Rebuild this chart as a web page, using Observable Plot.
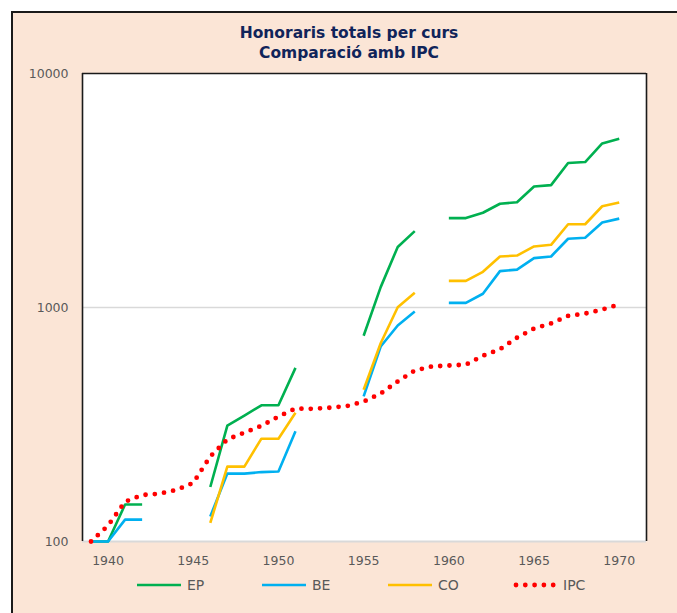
<!DOCTYPE html>
<html>
<head>
<meta charset="utf-8">
<script src="https://cdn.jsdelivr.net/npm/d3@7"></script>
<script src="https://cdn.jsdelivr.net/npm/@observablehq/plot@0.6"></script>
<style>
  html, body { margin: 0; padding: 0; background: #ffffff; }
  body { width: 677px; height: 613px; position: relative; overflow: hidden; font-family: "DejaVu Sans", Verdana, sans-serif; }
  #panel { position: absolute; left: 11px; top: 11px; width: 700px; height: 640px; background: #fbe5d6; border-left: 2px solid #1a1a1a; border-top: 2px solid #1a1a1a; box-sizing: border-box; }
  #title { position: absolute; left: 0; width: 698px; top: 23px; text-align: center; font-weight: bold; font-size: 15.5px; line-height: 20px; color: #10245a; }
  #chart { position: absolute; left: 0; top: 0; }
  #legend { position: absolute; left: 0; top: 575px; width: 677px; height: 20px; font-size: 14px; color: #595959; }
  .item { position: absolute; top: 0; display: flex; align-items: center; height: 20px; }
  .item svg { margin-right: 6px; }
</style>
</head>
<body>
<div id="panel"></div>
<div id="title">Honoraris totals per curs<br>Comparació amb IPC</div>
<div id="chart"></div>
<div id="legend"></div>
<script>
const years = d3.range(1939, 1971);
const EP = [100,100,144,144,null,null,null,171,313,345,382,382,552,null,null,null,757,1222,1815,2120,null,2410,2410,2541,2776,2818,3290,3335,4144,4185,5027,5265];
const BE = [100,100,124,124,null,null,null,128,195,195,198,199,296,null,null,null,417,681,838,961,null,1047,1047,1145,1430,1452,1625,1652,1967,1987,2307,2398];
const CO = [null,null,null,null,null,null,null,120,209,209,275,275,355,null,null,null,445,703,1002,1155,null,1300,1300,1421,1652,1667,1823,1853,2269,2269,2708,2812];
const IPC = [100,117,148,158,160,166,178,231,273,292,312,342,370,369,373,379,396,429,483,538,560,565,570,622,663,743,813,855,921,942,980,1030];
const seriesNames = ["EP","BE","CO","IPC"];
const seriesColors = {EP:"#00b050", BE:"#00b0f0", CO:"#ffc000", IPC:"#ff0000"};
const xTicks = [1940,1945,1950,1955,1960,1965,1970];
const yTicks = [100,1000,10000];

const seriesValues = {EP, BE, CO, IPC};
const rows = [];
for (const s of seriesNames) {
  years.forEach((y, i) => rows.push({series: s, year: y, value: seriesValues[s][i] == null ? NaN : seriesValues[s][i]}));
}

const chart = Plot.plot({
  width: 677,
  height: 613,
  marginLeft: 82,
  marginRight: 31,
  marginTop: 73,
  marginBottom: 72,
  style: {background: "transparent", fontFamily: "'DejaVu Sans', Verdana, sans-serif", fontSize: "12.5px", color: "#595959"},
  x: {domain: [1938.5, 1971.6], ticks: xTicks, tickFormat: d => String(d), tickSize: 0, tickPadding: 15, label: null},
  y: {type: "log", domain: [100, 10000], ticks: yTicks, tickFormat: d => String(d), tickSize: 0, tickPadding: 14, label: null},
  marks: [
    Plot.frame({fill: "white", stroke: null}),
    Plot.ruleY([1000], {stroke: "#d9d9d9", strokeWidth: 1.3}),
    Plot.ruleY([100], {stroke: "#d9d9d9", strokeWidth: 2}),
    Plot.line(rows.filter(d => d.series !== "IPC"), {x: "year", y: "value", z: "series", stroke: d => seriesColors[d.series], strokeWidth: 2.6, strokeLinejoin: "round", strokeLinecap: "butt"}),
    Plot.line(rows.filter(d => d.series === "IPC"), {x: "year", y: "value", stroke: seriesColors.IPC, strokeWidth: 4.8, strokeDasharray: "0 9.3", strokeLinecap: "round", curve: "linear"}),
    Plot.ruleY([10000], {stroke: "#1a1a1a", strokeWidth: 1.6}),
    Plot.ruleX([1938.5, 1971.6], {y1: 100, y2: 10000, stroke: "#1a1a1a", strokeWidth: 1.6})
  ]
});
document.getElementById("chart").appendChild(chart);

// Legend
const legend = document.getElementById("legend");
const legendX = {EP: 137, BE: 262, CO: 388, IPC: 513};
for (const s of seriesNames) {
  const item = document.createElement("div");
  item.className = "item";
  item.style.left = legendX[s] + "px";
  const sw = s === "IPC"
    ? `<svg width="44" height="10"><line x1="3" y1="5" x2="41" y2="5" stroke="${seriesColors[s]}" stroke-width="4.8" stroke-linecap="round" stroke-dasharray="0 9.3"/></svg>`
    : `<svg width="44" height="10"><line x1="0" y1="5" x2="44" y2="5" stroke="${seriesColors[s]}" stroke-width="2.6"/></svg>`;
  item.innerHTML = sw + `<span>${s}</span>`;
  legend.appendChild(item);
}
</script>
</body>
</html>
